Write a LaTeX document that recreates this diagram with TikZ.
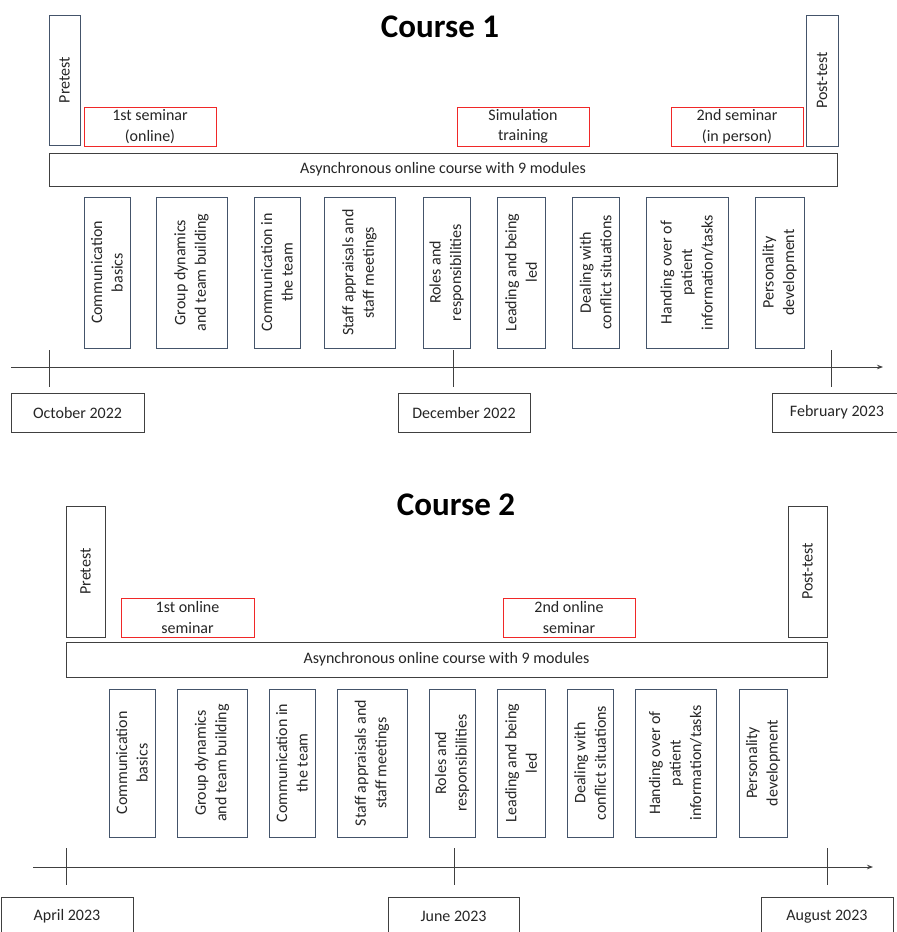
\documentclass[tikz,border=0pt]{standalone}
\usepackage{fontspec}
\setmainfont{Carlito}
\usetikzlibrary{arrows.meta}
\definecolor{modblue}{RGB}{68,84,106}
\definecolor{dgray}{RGB}{64,64,64}
\definecolor{sred}{RGB}{240,40,40}
\definecolor{txt}{RGB}{38,38,38}
% #1 style, #2 name, #3 left, #4 top, #5 right, #6 bottom (pixels), #7 text
\newcommand\rectH[7]{\node[#1, minimum width={(#5-#3)*1pt}, minimum height={(#6-#4)*1pt}] (#2) at ({(#3+#5)/2},{(#4+#6)/2}) {#7};}
\newcommand\rectV[7]{\node[#1, rotate=90, minimum width={(#6-#4)*1pt}, minimum height={(#5-#3)*1pt}] (#2) at ({(#3+#5)/2},{(#4+#6)/2}) {#7};}
\begin{document}
\begin{tikzpicture}[x=1pt, y=-1pt,
  every node/.style={text=txt, font=\fontsize{16}{20.5}\selectfont},
  basebox/.style={draw, line width=0.9pt, inner sep=0pt, align=center},
  modbox/.style={basebox, draw=modblue},
  bluebox/.style={basebox, draw=modblue},
  redbox/.style={basebox, draw=sred},
  graybox/.style={basebox, draw=dgray},
  datebox/.style={basebox, draw=dgray},
  tickline/.style={line width=0.9pt, draw=dgray},
  axisline/.style={line width=0.9pt, draw=dgray, -{Stealth[length=6pt,width=4.5pt]}},
  titletext/.style={font=\bfseries\fontsize{33}{36}\selectfont, text=black, anchor=base}]
\clip (0,0) rectangle (897,932);
\fill[white] (0,0) rectangle (897,932);

% ---------------- Course 1 ----------------
\node[titletext] (title1) at (440,37) {Course 1};
\rectV{bluebox}{pre1}{49}{15}{80}{145}{Pretest}
\rectV{bluebox}{post1}{806}{15}{838}{146}{Post-test}
\rectH{redbox}{semA1}{84}{107}{216}{146}{1st seminar\\(online)}
\rectH{redbox}{sim1}{457}{107}{589}{146}{Simulation\\training}
\rectH{redbox}{semB1}{671}{107}{803}{146}{2nd seminar\\(in person)}
\rectH{graybox}{async1}{49}{153}{837}{186}{Asynchronous online course with 9 modules}
\rectV{modbox}{m11}{84}{197}{130}{348}{Communication\\basics}
\rectV{modbox}{m12}{156}{197}{227}{348}{Group dynamics\\and team building}
\rectV{modbox}{m13}{254}{197}{300}{348}{Communication in\\the team}
\rectV{modbox}{m14}{324}{197}{395}{348}{Staff appraisals and\\staff meetings}
\rectV{modbox}{m15}{423}{197}{470}{348}{Roles and\\responsibilities}
\rectV{modbox}{m16}{497}{197}{545}{348}{Leading and being\\led}
\rectV{modbox}{m17}{572}{197}{619}{348}{Dealing with\\conflict situations}
\rectV{modbox}{m18}{646}{197}{728}{348}{Handing over of\\patient\\information/tasks}
\rectV{modbox}{m19}{755}{197}{804}{348}{Personality\\development}

\coordinate (ax1s) at (11,367);
\coordinate (ax1e) at (883,367);
\draw[axisline] (ax1s) -- (ax1e);
\coordinate (tk1at) at (49,350);  \coordinate (tk1ab) at (49,387);
\coordinate (tk1bt) at (453,350); \coordinate (tk1bb) at (453,387);
\coordinate (tk1ct) at (831,350); \coordinate (tk1cb) at (831,387);
\draw[tickline] (tk1at) -- (tk1ab);
\draw[tickline] (tk1bt) -- (tk1bb);
\draw[tickline] (tk1ct) -- (tk1cb);
\rectH{datebox}{oct}{11}{393}{144}{432}{October 2022}
\rectH{datebox}{dec}{398}{393}{530}{432}{December 2022}
\rectH{datebox}{feb}{772}{393}{902}{432}{February 2023}

% ---------------- Course 2 ----------------
\node[titletext] (title2) at (456,515) {Course 2};
\rectV{graybox}{pre2}{66}{506}{105}{637}{Pretest}
\rectV{graybox}{post2}{788}{506}{827}{637}{Post-test}
\rectH{redbox}{semA2}{121}{598}{254}{637}{1st online\\seminar}
\rectH{redbox}{semB2}{503}{598}{635}{637}{2nd online\\seminar}
\rectH{graybox}{async2}{66}{642}{827}{677}{Asynchronous online course with 9 modules}
\rectV{modbox}{m21}{109}{689}{155}{837}{Communication\\basics}
\rectV{modbox}{m22}{177}{689}{247}{837}{Group dynamics\\and team building}
\rectV{modbox}{m23}{269}{689}{315}{837}{Communication in\\the team}
\rectV{modbox}{m24}{337}{689}{407}{837}{Staff appraisals and\\staff meetings}
\rectV{modbox}{m25}{429}{689}{475}{837}{Roles and\\responsibilities}
\rectV{modbox}{m26}{497}{689}{545}{837}{Leading and being\\led}
\rectV{modbox}{m27}{567}{689}{613}{837}{Dealing with\\conflict situations}
\rectV{modbox}{m28}{635}{689}{716}{837}{Handing over of\\patient\\information/tasks}
\rectV{modbox}{m29}{739}{689}{787}{837}{Personality\\development}

\coordinate (ax2s) at (33,867);
\coordinate (ax2e) at (873,867);
\draw[axisline] (ax2s) -- (ax2e);
\coordinate (tk2at) at (66,848);  \coordinate (tk2ab) at (66,885);
\coordinate (tk2bt) at (454,848); \coordinate (tk2bb) at (454,885);
\coordinate (tk2ct) at (827,848); \coordinate (tk2cb) at (827,885);
\draw[tickline] (tk2at) -- (tk2ab);
\draw[tickline] (tk2bt) -- (tk2bb);
\draw[tickline] (tk2ct) -- (tk2cb);
\rectH{datebox}{apr}{1}{897}{133}{936}{April 2023}
\rectH{datebox}{jun}{388}{897}{519}{936}{June 2023}
\rectH{datebox}{aug}{761}{897}{893}{936}{August 2023}
\end{tikzpicture}
\end{document}
